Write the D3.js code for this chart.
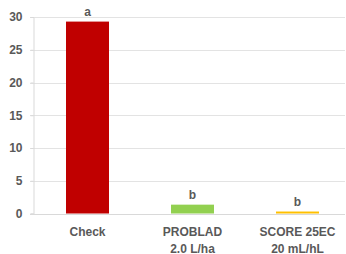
<!DOCTYPE html>
<html>
<head>
<meta charset="utf-8">
<script src="https://cdn.jsdelivr.net/npm/d3@7"></script>
<style>
  body { margin: 0; background: #fff; }
  svg text { font-family: "Liberation Sans", Arial, sans-serif; font-weight: bold; fill: #595959; }
</style>
</head>
<body>
<svg id="chart" width="346" height="254"></svg>
<script>
var categories = [["Check"], ["PROBLAD", "2.0 L/ha"], ["SCORE 25EC", "20 mL/hL"]];
var values = [29.3, 1.35, 0.3];
var letters = ["a", "b", "b"];
var colors = ["#c00000", "#92d050", "#ffc000"];
var yTicks = [0, 5, 10, 15, 20, 25, 30];

var svg = d3.select("#chart");
var plotLeft = 33, plotRight = 345, plotTop = 17, plotBottom = 213.5;

var x = d3.scalePoint()
    .domain(d3.range(categories.length))
    .range([35, 350])
    .padding(0.5);

var y = d3.scaleLinear()
    .domain([0, 30])
    .range([plotBottom, plotTop]);

// gridlines
svg.append("g")
  .selectAll("line")
  .data(yTicks.slice(1))
  .enter().append("line")
    .attr("x1", plotLeft - 3)
    .attr("x2", plotRight)
    .attr("y1", function(d) { return Math.round(y(d)) + 0.5; })
    .attr("y2", function(d) { return Math.round(y(d)) + 0.5; })
    .attr("stroke", "#e3e3e3")
    .attr("stroke-width", 1);

// y axis
var yAxis = svg.append("g")
    .attr("transform", "translate(" + (plotLeft + 0.5) + ",0)")
    .call(d3.axisLeft(y).tickValues(yTicks).tickSize(3).tickPadding(8));
yAxis.select(".domain").attr("stroke", "#d9d9d9");
yAxis.selectAll(".tick line").attr("stroke", "#d9d9d9");
yAxis.selectAll(".tick text").attr("font-size", 12).attr("fill", "#595959");

// bars
svg.append("g")
  .selectAll("rect")
  .data(values)
  .enter().append("rect")
    .attr("x", function(d, i) { return x(i) - 21.5; })
    .attr("y", function(d) { return y(d); })
    .attr("width", 43)
    .attr("height", function(d) { return y(0) - y(d); })
    .attr("fill", function(d, i) { return colors[i]; });

// baseline
svg.append("line")
    .attr("x1", plotLeft - 3)
    .attr("x2", plotRight)
    .attr("y1", Math.round(y(0)) + 0.5)
    .attr("y2", Math.round(y(0)) + 0.5)
    .attr("stroke", "#d9d9d9");

// significance letters
svg.append("g")
  .selectAll("text")
  .data(letters)
  .enter().append("text")
    .attr("x", function(d, i) { return x(i); })
    .attr("y", function(d, i) { return y(values[i]) - 6; })
    .attr("text-anchor", "middle")
    .attr("font-size", 12)
    .text(function(d) { return d; });

// x labels
var xl = svg.append("g")
  .selectAll("text")
  .data(categories)
  .enter().append("text")
    .attr("x", function(d, i) { return x(i); })
    .attr("y", 236)
    .attr("text-anchor", "middle")
    .attr("font-size", 12);
xl.selectAll("tspan")
  .data(function(d) { return d; })
  .enter().append("tspan")
    .attr("x", function() { return d3.select(this.parentNode).attr("x"); })
    .attr("dy", function(d, i) { return i ? 16.5 : 0; })
    .text(function(d) { return d; });
</script>
</body>
</html>
